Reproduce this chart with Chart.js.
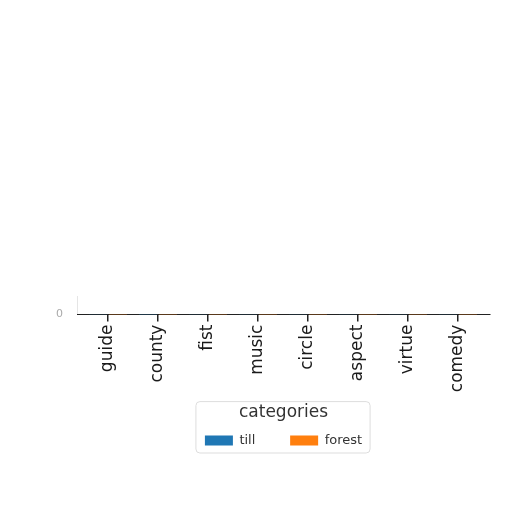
<!DOCTYPE html>
<html><head><meta charset="utf-8">
<script src="https://cdn.jsdelivr.net/npm/chart.js@4"></script>
<style>html,body{margin:0;padding:0;background:#fff}#w{width:512px;height:512px;position:relative}</style>
</head><body><div id="w"><canvas id="c"></canvas></div>
<script>
const categories = ["guide","county","fist","music","circle","aspect","virtue","comedy"];
const tillValues = [1.6, 1.2, 1.9, 2.1, 1.5, 1.8, 1.4, 1.3];
const forestValues = [0.9, 1.1, 0.8, 1.2, 1.0, 0.7, 0.9, 1.1];
const yTicks = [0];

const legendBorder = {
  id: 'legendBorder',
  afterDraw(chart) {
    const lg = chart.legend;
    if (!lg || !lg.legendHitBoxes || !lg.legendHitBoxes.length) return;
    const hb = lg.legendHitBoxes;
    let minX = Math.min(...hb.map(h => h.left)) - 9;
    let maxX = Math.max(...hb.map(h => h.left + h.width)) + 8;
    const top = lg.top + 1, bottom = lg.bottom - 4;
    const ctx = chart.ctx;
    ctx.save();
    ctx.strokeStyle = '#dddddd';
    ctx.lineWidth = 1;
    ctx.beginPath();
    ctx.roundRect(minX, top, maxX - minX, bottom - top, 4);
    ctx.stroke();
    ctx.restore();
  }
};

new Chart(document.getElementById('c'), {
  type: 'bar',
  data: {
    datasets: [
      { label: 'till', data: tillValues.map((v, i) => ({ x: i, y: v })), backgroundColor: '#1f77b4', borderWidth: 0 },
      { label: 'forest', data: forestValues.map((v, i) => ({ x: i, y: v })), backgroundColor: '#ff7f0e', borderWidth: 0 }
    ]
  },
  options: {
    responsive: true,
    maintainAspectRatio: false,
    animation: false,
    layout: { padding: { top: 296, left: 0, right: 22, bottom: 55 } },
    scales: {
      x: {
        type: 'linear',
        min: -0.62, max: 7.64,
        offset: false,
        afterBuildTicks(scale) { scale.ticks = categories.map((_, i) => ({ value: i })); },
        afterFit(scale) { scale.height = 86; },
        ticks: {
          autoSkip: false, minRotation: 90, maxRotation: 90,
          callback: (v) => categories[v] ?? '',
          font: { family: 'DejaVu Sans', size: 17 }, color: '#1a1a1a', padding: 3
        },
        grid: { offset: false, drawOnChartArea: false, drawTicks: true, tickLength: 7, color: '#222', lineWidth: 1.5 },
        border: { color: '#222' }
      },
      y: {
        min: 0, max: 100,
        afterBuildTicks(scale) { scale.ticks = yTicks.map(v => ({ value: v })); },
        afterFit(scale) { scale.width = 77; },
        ticks: { font: { family: 'DejaVu Sans', size: 11 }, color: '#aaa', padding: 14 },
        grid: { drawOnChartArea: false, drawTicks: false, color: '#e6e6e6' }
      }
    },
    plugins: {
      legend: {
        position: 'bottom', fullSize: false,
        title: { display: true, text: 'categories', font: { family: 'DejaVu Sans', size: 17 }, color: '#333', padding: { top: 3, bottom: 0 } },
        labels: {
          boxWidth: 28, boxHeight: 10, padding: 10, font: { family: 'DejaVu Sans', size: 13 }, color: '#333',
          generateLabels(chart) {
            const items = Chart.defaults.plugins.legend.labels.generateLabels(chart);
            items.forEach((it, i) => { if (i < items.length - 1) it.text = it.text + '      '; });
            return items;
          }
        }
      },
      tooltip: { enabled: false }
    }
  },
  plugins: [legendBorder]
});
</script></body></html>
